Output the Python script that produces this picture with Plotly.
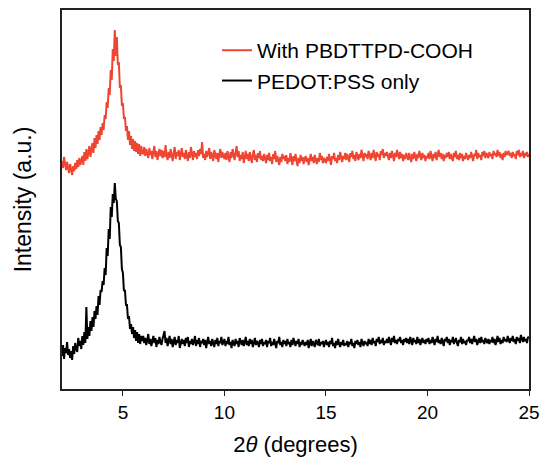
import numpy as np
import plotly.graph_objects as go

# 2-theta sampling (degrees), 0.05 step from 2.00 to 25.00
two_theta = np.round(np.arange(2.0, 25.0001, 0.05), 2)

# Intensity (a.u.), curves offset-stacked as in the original
with_pbdttpd = [
    228, 221, 232, 224, 219, 227, 222, 216, 225, 220, 214, 223, 218, 226, 220, 229, 222, 231, 224, 228,
    233, 224, 237, 228, 240, 230, 239, 243, 232, 242, 246, 236, 251, 241, 254, 245, 258, 249, 262, 254,
    266, 259, 274, 270, 287, 281, 301, 294, 319, 309, 340, 328, 359, 333, 352, 324, 327, 301, 304, 283,
    286, 270, 272, 258, 263, 249, 258, 244, 253, 240, 250, 238, 248, 237, 246, 235, 245, 233, 243, 236,
    235, 242, 233, 240, 236, 231, 241, 234, 238, 230, 237, 243, 232, 238, 229, 236, 240, 233, 239, 231,
    238, 232, 244, 234, 229, 237, 231, 240, 235, 228, 236, 242, 230, 237, 233, 239, 229, 236, 241, 232,
    236, 230, 239, 233, 228, 237, 231, 242, 234, 229, 238, 232, 236, 230, 239, 233, 240, 235, 247, 231,
    235, 229, 238, 232, 236, 241, 230, 237, 233, 228, 239, 234, 230, 236, 227, 235, 240, 231, 237, 233,
    230, 236, 229, 238, 233, 227, 237, 231, 240, 234, 229, 236, 243, 232, 238, 228, 234, 230, 237, 226,
    233, 238, 230, 235, 228, 237, 231, 226, 235, 239, 229, 234, 227, 236, 231, 238, 229, 233, 228, 235,
    231, 226, 234, 229, 236, 228, 232, 225, 235, 230, 238, 227, 233, 229, 224, 232, 227, 235, 230, 233,
    228, 234, 225, 231, 227, 236, 229, 224, 233, 228, 235, 230, 223, 231, 226, 234, 228, 232, 225, 230,
    233, 227, 231, 224, 229, 235, 228, 232, 226, 234, 229, 225, 231, 227, 236, 229, 233, 226, 231, 228,
    226, 232, 228, 235, 229, 224, 233, 230, 236, 228, 231, 226, 234, 229, 237, 231, 227, 233, 230, 236,
    229, 235, 231, 227, 236, 232, 238, 230, 234, 228, 237, 233, 229, 235, 231, 239, 233, 228, 236, 232,
    235, 230, 238, 233, 229, 236, 231, 239, 234, 228, 237, 232, 235, 229, 238, 234, 240, 231, 236, 233,
    237, 232, 229, 236, 231, 238, 234, 228, 236, 232, 239, 233, 230, 237, 231, 235, 228, 234, 230, 236,
    233, 229, 236, 231, 227, 235, 230, 237, 232, 228, 235, 231, 238, 233, 229, 236, 231, 234, 228, 233,
    231, 236, 230, 238, 233, 228, 235, 231, 237, 229, 234, 239, 232, 236, 230, 235, 228, 234, 231, 236,
    232, 237, 230, 235, 231, 228, 236, 232, 238, 230, 234, 229, 236, 231, 235, 228, 233, 230, 236, 231,
    229, 234, 231, 237, 232, 228, 235, 233, 239, 230, 236, 232, 234, 229, 237, 233, 238, 231, 236, 234,
    231, 237, 233, 235, 230, 238, 234, 236, 232, 239, 233, 237, 231, 235, 229, 236, 232, 238, 234, 236,
    238, 233, 236, 231, 237, 233, 235, 230, 238, 234, 239, 232, 236, 233, 238, 231, 236, 233, 237, 232,
    235,
]

pedot_only = [
    33, 44, 30, 41, 36, 47, 34, 40, 31, 38, 29, 43, 35, 46, 40, 37, 51, 43, 48, 40,
    53, 44, 57, 46, 82, 50, 62, 53, 68, 58, 72, 62, 78, 70, 83, 74, 93, 84, 99, 97,
    108, 104, 121, 114, 141, 133, 160, 150, 182, 172, 195, 186, 206, 190, 188, 168, 166, 144, 142, 120,
    116, 98, 99, 84, 84, 70, 73, 60, 65, 55, 62, 51, 59, 48, 57, 46, 55, 45, 53, 48,
    53, 46, 51, 44, 49, 55, 45, 50, 43, 48, 53, 46, 51, 42, 49, 45, 52, 47, 44, 50,
    55, 58, 46, 51, 43, 49, 53, 45, 50, 42, 48, 52, 44, 49, 46, 53, 41, 47, 50, 45,
    49, 43, 51, 46, 52, 42, 48, 45, 50, 44, 47, 53, 43, 49, 45, 51, 42, 48, 46, 50,
    44, 49, 41, 47, 52, 45, 48, 43, 50, 46, 42, 49, 45, 51, 43, 48, 46, 52, 44, 47,
    50, 43, 48, 45, 52, 44, 47, 41, 49, 46, 43, 50, 45, 48, 42, 51, 46, 44, 49, 43,
    47, 52, 44, 48, 43, 50, 45, 49, 42, 47, 51, 44, 48, 46, 42, 49, 45, 50, 43, 47,
    45, 49, 42, 48, 46, 51, 43, 47, 44, 50, 45, 41, 48, 46, 52, 44, 47, 42, 49, 45,
    48, 43, 50, 45, 47, 42, 49, 44, 51, 46, 43, 48, 45, 50, 42, 47, 44, 49, 46, 43,
    47, 44, 49, 41, 46, 50, 43, 48, 45, 42, 49, 46, 44, 50, 43, 47, 45, 48, 42, 46,
    49, 44, 47, 42, 48, 45, 51, 43, 46, 41, 48, 44, 50, 45, 42, 47, 44, 49, 43, 46,
    44, 48, 42, 47, 45, 50, 43, 46, 41, 48, 45, 49, 44, 47, 42, 50, 46, 43, 48, 45,
    47, 43, 50, 45, 49, 44, 51, 46, 48, 43, 50, 47, 52, 45, 49, 46, 51, 44, 48, 46,
    50, 46, 52, 48, 44, 51, 47, 53, 46, 49, 45, 50, 48, 52, 46, 49, 44, 50, 47, 51,
    46, 50, 45, 52, 48, 44, 51, 47, 49, 45, 52, 46, 50, 44, 48, 51, 46, 49, 45, 50,
    47, 51, 45, 49, 46, 52, 48, 44, 50, 47, 53, 46, 49, 45, 51, 47, 43, 50, 48, 52,
    46, 50, 44, 49, 47, 52, 45, 48, 51, 46, 43, 49, 47, 52, 45, 50, 46, 48, 44, 49,
    48, 52, 46, 50, 45, 49, 53, 47, 50, 44, 48, 51, 46, 52, 47, 49, 45, 51, 48, 46,
    50, 45, 49, 47, 52, 46, 50, 44, 48, 53, 47, 51, 45, 49, 46, 52, 48, 50, 47, 53,
    49, 46, 51, 48, 53, 47, 50, 45, 52, 48, 51, 46, 54, 49, 47, 52, 48, 50, 46, 52,
    51,
]

series_names = ["With PBDTTPD-COOH", "PEDOT:PSS only"]
x_ticks = [5, 10, 15, 20, 25]

FONT = "Liberation Sans, Arial, sans-serif"

fig = go.Figure()
fig.add_trace(go.Scatter(x=two_theta, y=with_pbdttpd, mode="lines",
                         name=series_names[0],
                         line=dict(color="#EE4632", width=2)))
fig.add_trace(go.Scatter(x=two_theta, y=pedot_only, mode="lines",
                         name=series_names[1],
                         line=dict(color="#000000", width=2)))

fig.update_layout(
    width=542, height=460,
    margin=dict(l=62, r=13, t=10, b=71, autoexpand=False),
    paper_bgcolor="white", plot_bgcolor="white",
    font=dict(family=FONT, color="black"),
    showlegend=True,
    legend=dict(x=0.332, y=0.947, xanchor="left", yanchor="top",
                bgcolor="rgba(0,0,0,0)", font=dict(size=21, family=FONT),
                tracegroupgap=0),
    xaxis=dict(range=[2, 25], tickvals=x_ticks, ticks="outside", ticklen=5,
               tickwidth=1.2, tickcolor="#222", showgrid=False, zeroline=False,
               showline=True, linecolor="#222", linewidth=1.5, mirror=True,
               automargin=False,
               tickfont=dict(size=19, family=FONT),
               title=dict(text="2<i>θ</i> (degrees)", font=dict(size=22, family=FONT))),
    yaxis=dict(range=[0, 379], showticklabels=False, ticks="", showgrid=False,
               zeroline=False, showline=True, linecolor="#222", linewidth=1.5,
               mirror=True, automargin=False,
               title=dict(text="Intensity (a.u.)", font=dict(size=23, family=FONT), standoff=22)),
)

fig.write_html("out.html")
